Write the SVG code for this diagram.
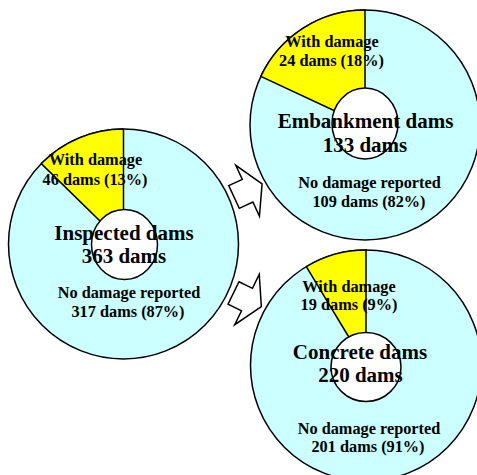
<svg xmlns="http://www.w3.org/2000/svg" width="477" height="475" viewBox="0 0 477 475">
<style>
.outer{fill:#CCFFFF;stroke:#000;stroke-width:1.5}
.wedge{fill:#FFFF00;stroke:#000;stroke-width:1.5;stroke-linejoin:round}
.hole{fill:#fff;stroke:#000;stroke-width:1.5}
.arrow{fill:#fff;stroke:#000;stroke-width:1.5;stroke-linejoin:miter}
text{font-family:"Liberation Serif","Times New Roman",serif;font-weight:bold;fill:#000;text-anchor:middle}
.s{font-size:16.3px}
.t{font-size:21px}
</style>
<rect width="477" height="475" fill="#fff"/>
<g id="inspected">
<circle class="outer" cx="123.5" cy="244" r="115"/>
<path class="wedge" d="M123.5,244 L123.5,129 A115,115 0 0 0 41.3,163.6 Z"/>
<ellipse class="hole" cx="124.5" cy="244.5" rx="33" ry="35"/>
<text class="s" x="95.5" y="165">With damage</text>
<text class="s" x="95" y="185">46 dams (13%)</text>
<text class="t" x="124" y="240">Inspected dams</text>
<text class="t" x="124" y="263">363 dams</text>
<text class="s" x="129" y="298">No damage reported</text>
<text class="s" x="128" y="317">317 dams (87%)</text>
</g>
<g id="embankment">
<circle class="outer" cx="365" cy="125" r="115"/>
<path class="wedge" d="M365,125 L365,10 A115,115 0 0 0 260.8,76.4 Z"/>
<ellipse class="hole" cx="365" cy="123.5" rx="33" ry="35.5"/>
<text class="s" x="332" y="47">With damage</text>
<text class="s" x="331.5" y="66">24 dams (18%)</text>
<text class="t" x="365.5" y="128">Embankment dams</text>
<text class="t" x="365" y="152">133 dams</text>
<text class="s" x="369.5" y="188">No damage reported</text>
<text class="s" x="369" y="207">109 dams (82%)</text>
</g>
<g id="concrete">
<circle class="outer" cx="366" cy="365.5" r="115.5"/>
<path class="wedge" d="M366,365.5 L366,250 A115.5,115.5 0 0 0 306.3,266.6 Z"/>
<ellipse class="hole" cx="366" cy="367" rx="35" ry="34.5"/>
<text class="s" x="349" y="292">With damage</text>
<text class="s" x="349" y="310">19 dams (9%)</text>
<text class="t" x="360" y="359">Concrete dams</text>
<text class="t" x="360.5" y="382">220 dams</text>
<text class="s" x="369" y="434">No damage reported</text>
<text class="s" x="368" y="452">201 dams (91%)</text>
</g>
<g id="connectors">
<path class="arrow" transform="translate(234,197) rotate(-25)" d="M0,-12.5 L15,-12.5 L15,-28 L31,0 L15,28 L15,12.5 L0,12.5 Z"/>
<path class="arrow" transform="translate(233.5,293) rotate(26)" d="M0,-12.5 L15,-12.5 L15,-28 L31,0 L15,28 L15,12.5 L0,12.5 Z"/>
</g>
</svg>
